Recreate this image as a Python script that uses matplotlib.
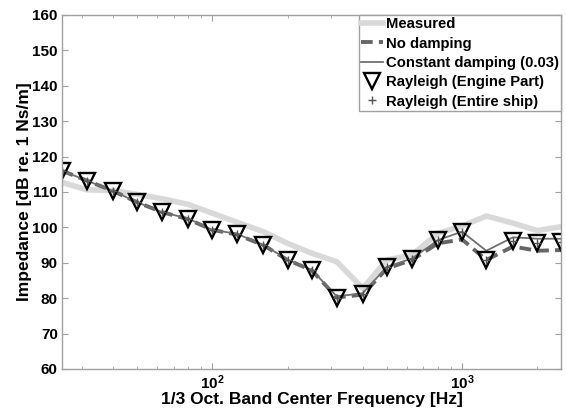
import matplotlib
matplotlib.use("Agg")
import matplotlib.pyplot as plt
from matplotlib.ticker import LogLocator, NullFormatter, FixedLocator

plt.rcParams["font.family"] = ["Liberation Sans", "DejaVu Sans"]
plt.rcParams["font.weight"] = "bold"
plt.rcParams["mathtext.fontset"] = "custom"
plt.rcParams["mathtext.rm"] = "Liberation Sans:bold"
plt.rcParams["mathtext.bf"] = "Liberation Sans:bold"
plt.rcParams["mathtext.default"] = "bf"

# === Data: 1/3 octave band centres ===
freq = [25, 31.5, 40, 50, 63, 80, 100, 125, 160, 200, 250, 315, 400,
        500, 630, 800, 1000, 1250, 1600, 2000, 2500]
measured = [112.7, 110.6, 110.4, 109.3, 108.1, 106.5, 104.0, 101.5, 98.8,
            95.5, 92.7, 90.3, 82.8, 90.8, 92.2, 98.3, 100.4, 103.2,
            101.2, 99.1, 100.2]
no_damping = [116.0, 113.2, 110.3, 107.1, 104.3, 102.3, 99.3, 98.0, 95.0,
              90.8, 87.9, 80.2, 81.0, 88.4, 90.8, 95.5, 96.6, 90.8,
              94.6, 93.4, 93.6]
const_damping = [116.0, 113.2, 110.3, 107.1, 104.3, 102.5, 99.3, 98.2, 95.1,
                 90.9, 88.0, 80.5, 81.4, 88.9, 91.2, 96.4, 98.8, 93.4,
                 97.2, 96.8, 96.8]
rayleigh_engine = [116.0, 113.2, 110.3, 107.1, 104.3, 102.5, 99.3, 98.1, 95.0,
                   90.8, 87.9, 80.0, 81.3, 88.7, 91.1, 96.3, 98.6, 90.7,
                   96.2, 95.7, 96.0]
rayleigh_ship = rayleigh_engine

# === Plot ===
fig = plt.figure(figsize=(5.66, 4.12), dpi=100)
ax = fig.add_axes([0.1095, 0.1044, 0.8825, 0.8592])

ax.plot(freq, measured, color="#d9d9d9", lw=4.0, solid_joinstyle="round", label="Measured")
ax.plot(freq, no_damping, color="#666666", lw=2.8, ls=(0, (3, 1.6)), label="No damping")
ax.plot(freq, const_damping, color="#707070", lw=1.3, label="Constant damping (0.03)")
ax.plot(freq, rayleigh_engine, ls="none", marker="v", ms=11, mfc="none",
        mec="black", mew=1.7, label="Rayleigh (Engine Part)")
ax.plot(freq, rayleigh_ship, ls="none", marker="+", ms=6, mec="#555555",
        mew=1.0, label="Rayleigh (Entire ship)")

ax.set_xscale("log")
ax.set_xlim(25, 2500)
ax.set_ylim(60, 160)
ax.set_yticks(range(60, 161, 10))
ax.xaxis.set_major_locator(FixedLocator([100, 1000]))
ax.xaxis.set_minor_locator(LogLocator(base=10, subs=range(2, 10)))
ax.xaxis.set_minor_formatter(NullFormatter())

for s in ax.spines.values():
    s.set_color("#a0a0a0")
    s.set_linewidth(1.0)
ax.tick_params(which="both", direction="in", top=True, right=True,
               color="#a0a0a0", labelsize=11, pad=3)
ax.tick_params(which="major", length=4)
ax.tick_params(which="minor", length=2.5)

ax.set_xlabel("1/3 Oct. Band Center Frequency [Hz]", fontsize=12.5, fontweight="bold", labelpad=0)
ax.set_ylabel("Impedance [dB re. 1 Ns/m]", fontsize=12.5, fontweight="bold")
ax.yaxis.set_label_coords(-0.06, 0.5)

leg = ax.legend(loc="upper right", fontsize=10.7, fancybox=False, framealpha=1,
                edgecolor="#a0a0a0", borderaxespad=0, borderpad=0.15,
                handlelength=1.5, handletextpad=0.2, labelspacing=0.36)
leg.get_frame().set_linewidth(1.0)

fig.savefig("out.png", dpi=100)
